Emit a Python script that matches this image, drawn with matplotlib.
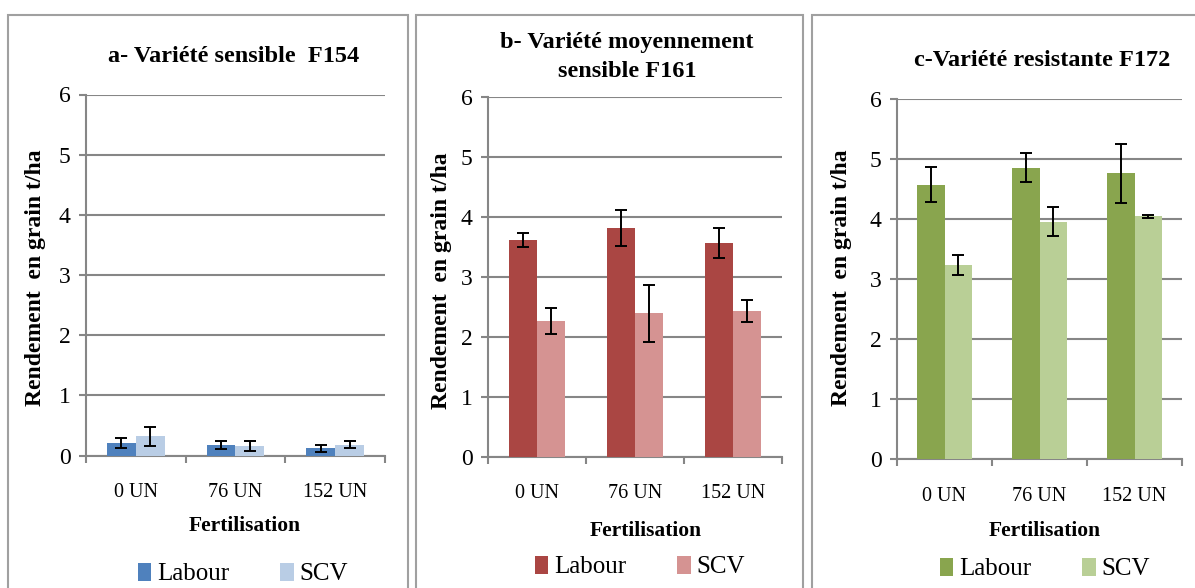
import matplotlib
matplotlib.use("Agg")
import matplotlib.pyplot as plt
from matplotlib.patches import Rectangle
import numpy as np

plt.rcParams['font.family'] = ['Liberation Serif', 'DejaVu Serif']

categories = ["0 UN", "76 UN", "152 UN"]
series_names = ["Labour", "SCV"]

# a- sensible F154
a_labour = [0.21, 0.18, 0.12]
a_labour_err = [0.08, 0.07, 0.06]
a_scv = [0.32, 0.16, 0.18]
a_scv_err = [0.16, 0.09, 0.06]

# b- moyennement sensible F161
b_labour = [3.61, 3.81, 3.57]
b_labour_err = [0.12, 0.30, 0.25]
b_scv = [2.26, 2.39, 2.43]
b_scv_err = [0.22, 0.47, 0.19]

# c- resistante F172
c_labour = [4.58, 4.86, 4.77]
c_labour_err = [0.29, 0.24, 0.49]
c_scv = [3.24, 3.96, 4.05]
c_scv_err = [0.17, 0.24, 0.03]

W, H = 1195, 588
fig = plt.figure(figsize=(W / 100, H / 100), dpi=100)

GRID = "#868686"


def px_box(x0, x1, ytop, ybot):
    return [x0 / W, (H - ybot) / H, (x1 - x0) / W, (ybot - ytop) / H]


def draw_panel(box, labour, labour_err, scv, scv_err, colors, title, title_xy,
               ylab_xy, xlab_xy, leg_xy):
    ax = fig.add_axes(px_box(*box))
    x = np.arange(len(categories))
    bw = 0.29
    err_kw = dict(ecolor="black", elinewidth=1.4, capsize=4, capthick=1.4)
    b1 = ax.bar(x - bw / 2, labour, bw, yerr=labour_err, color=colors[0],
                error_kw=err_kw, zorder=3, label=series_names[0])
    b2 = ax.bar(x + bw / 2, scv, bw, yerr=scv_err, color=colors[1],
                error_kw=err_kw, zorder=3, label=series_names[1])
    ax.set_xlim(-0.5, 2.5)
    ax.set_ylim(0, 6)
    ax.set_yticks(range(7))
    ax.yaxis.grid(True, color=GRID, linewidth=1.5, zorder=0)
    ax.set_axisbelow(True)
    for s in ["top", "right"]:
        ax.spines[s].set_visible(False)
    for s in ["left", "bottom"]:
        ax.spines[s].set_color(GRID)
        ax.spines[s].set_linewidth(1.5)
    ax.set_xticks([-0.5, 0.5, 1.5, 2.5])
    ax.set_xticklabels([])
    ax.set_xticks(x, minor=True)
    ax.set_xticklabels(categories, minor=True)
    ax.tick_params(axis="x", which="major", length=5, color=GRID, width=1.5)
    ax.tick_params(axis="x", which="minor", length=0, pad=20, labelsize=14.5)
    ax.tick_params(axis="y", length=5, color=GRID, width=1.5, pad=6, labelsize=17)

    fig.text(title_xy[0] / W, 1 - title_xy[1] / H, title, ha="center",
             va="center", fontsize=17.5, fontweight="bold", linespacing=1.55)
    fig.text(ylab_xy[0] / W, 1 - ylab_xy[1] / H, "Rendement  en grain t/ha",
             rotation=90, ha="center", va="center", fontsize=17,
             fontweight="bold")
    fig.text(xlab_xy[0] / W, 1 - xlab_xy[1] / H, "Fertilisation", ha="center",
             va="center", fontsize=15.5, fontweight="bold")
    fig.legend(handles=[b1, b2], loc="center",
               bbox_to_anchor=(leg_xy[0] / W, 1 - leg_xy[1] / H), ncol=2,
               frameon=False, fontsize=18, handlelength=0.55, handleheight=0.75,
               handletextpad=0.25, columnspacing=2.0, borderaxespad=0)
    return ax


# panel frames
for x0, x1 in [(8, 408), (416, 803), (812, 1205)]:
    fig.patches.append(Rectangle((x0 / W, -0.05), (x1 - x0) / W, 1.05 - 15 / H,
                                 transform=fig.transFigure, fill=False,
                                 edgecolor="#A0A0A0", linewidth=1.5))

draw_panel((86, 385, 94.5, 455.6), a_labour, a_labour_err, a_scv, a_scv_err,
           ["#4F81BD", "#B9CDE5"], "a- Variété sensible  F154", (234, 57),
           (36, 278), (245, 526), (243, 574))
draw_panel((488, 782, 96.7, 456.7), b_labour, b_labour_err, b_scv, b_scv_err,
           ["#AA4643", "#D59392"], "b- Variété moyennement\nsensible F161",
           (627, 57), (442, 281), (646, 531), (640, 567))
draw_panel((897, 1182, 99.4, 459.4), c_labour, c_labour_err, c_scv, c_scv_err,
           ["#89A54E", "#B9CF96"], "c-Variété resistante F172", (1042, 60),
           (842, 278), (1045, 531), (1045, 569))

fig.savefig("out.png", dpi=100)
